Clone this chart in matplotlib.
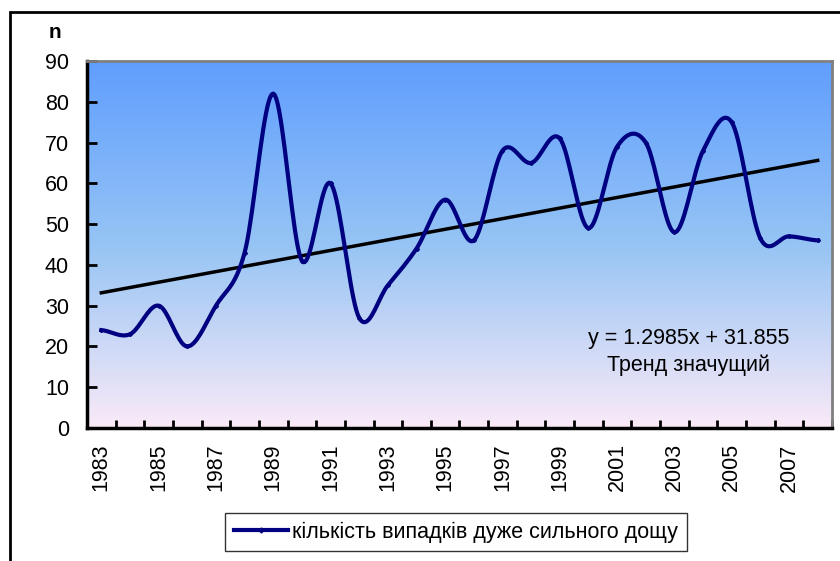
import numpy as np
import matplotlib
matplotlib.use("Agg")
from matplotlib import pyplot as plt
from matplotlib.patches import Rectangle
from matplotlib.lines import Line2D

plt.rcParams['font.family'] = ['Liberation Sans', 'DejaVu Sans']

# дані
years = list(range(1983, 2009))
n_cases = [24, 23, 30, 20, 30, 43, 82, 41, 60, 27, 35, 44, 56,
           46, 68, 65, 71, 49, 69, 70, 48, 68, 75, 46.5, 47, 46]
trend_k = 1.2985
trend_b = 31.855
series_name = "кількість випадків дуже сильного дощу"
trend_text = "y = 1.2985x + 31.855\nТренд значущий"


# згладжена лінія як в Excel (кубічна Ерміта через точки)
def smooth(ys, steps=20):
    ys = np.asarray(ys, dtype=float)
    n = len(ys)
    m = np.zeros(n)
    for i in range(n):
        a = ys[max(i - 1, 0)]
        b = ys[min(i + 1, n - 1)]
        m[i] = (b - a) / 2.0
    xs_out, ys_out = [], []
    for i in range(n - 1):
        t = np.linspace(0, 1, steps, endpoint=False)
        h00 = 2 * t**3 - 3 * t**2 + 1
        h10 = t**3 - 2 * t**2 + t
        h01 = -2 * t**3 + 3 * t**2
        h11 = t**3 - t**2
        xs_out.extend(i + t)
        ys_out.extend(h00 * ys[i] + h10 * m[i] + h01 * ys[i + 1] + h11 * m[i + 1])
    xs_out.append(n - 1)
    ys_out.append(ys[-1])
    return np.array(xs_out), np.array(ys_out)


fig = plt.figure(figsize=(8.4, 5.61), dpi=100)
fig.patches.append(Rectangle((10 / 840, -0.1), 1.2, (561 - 12) / 561 + 0.1,
                             transform=fig.transFigure, fill=False,
                             edgecolor='black', linewidth=2))

ax = fig.add_axes([87 / 840, (561 - 428) / 561, 745 / 840, 367 / 561])

# градієнтний фон
stops = np.array([[96, 158, 255], [150, 196, 244], [250, 234, 248]]) / 255.0
pos = np.linspace(0, 1, 256)
grad = np.zeros((256, 1, 3))
for c in range(3):
    grad[:, 0, c] = np.interp(pos, [0, 0.5, 1], stops[:, c])
ax.imshow(grad, extent=[0, 1, 0, 1], transform=ax.transAxes,
          aspect='auto', zorder=0, origin='upper')

idx = np.arange(len(years))
sx, sy = smooth(n_cases)
ax.plot(sx, sy, color='#000080', linewidth=3, zorder=3)
ax.plot(idx, n_cases, linestyle='none', marker='D', markersize=2,
        color='#000080', zorder=3)

tx = np.array([0, len(years) - 1])
ax.plot(tx, trend_k * (tx + 1) + trend_b, color='black', linewidth=2.5, zorder=2)

ax.text(20.5, 18.6, trend_text, ha='center', va='center', fontsize=15.5,
        linespacing=1.3, zorder=4)

ax.set_xlim(-0.5, len(years) - 0.5)
ax.set_ylim(0, 90)
ax.set_yticks(range(0, 91, 10))
ax.set_xticks(idx[::2])
ax.set_xticklabels([str(y) for y in years[::2]], rotation=90)
ax.set_xticks(np.arange(-0.5, len(years), 1), minor=True)
ax.tick_params(axis='x', which='major', length=0, pad=11, labelsize=15.5)
ax.tick_params(axis='x', which='minor', direction='in', length=6, width=2)
ax.tick_params(axis='y', direction='in', length=7, width=2, labelsize=15.5, pad=13)

for s in ['left', 'bottom']:
    ax.spines[s].set_linewidth(2.5)
    ax.spines[s].set_color('black')
for s in ['top', 'right']:
    ax.spines[s].set_linewidth(2)
    ax.spines[s].set_color('#808080')

fig.text(55 / 840, 1 - 32 / 561, "n", fontsize=15, fontweight='bold',
         ha='center', va='center')

handle = Line2D([], [], color='#000080', linewidth=3, marker='D', markersize=2.5)
leg = fig.legend([handle], [series_name], loc='center',
                 bbox_to_anchor=(456 / 840, 1 - 532 / 561), fontsize=15.5,
                 frameon=True, fancybox=False, handlelength=2.5,
                 handletextpad=0.2, borderpad=0.4)
leg.get_frame().set_edgecolor('black')
leg.get_frame().set_linewidth(1)

fig.savefig("out.png", dpi=100)
